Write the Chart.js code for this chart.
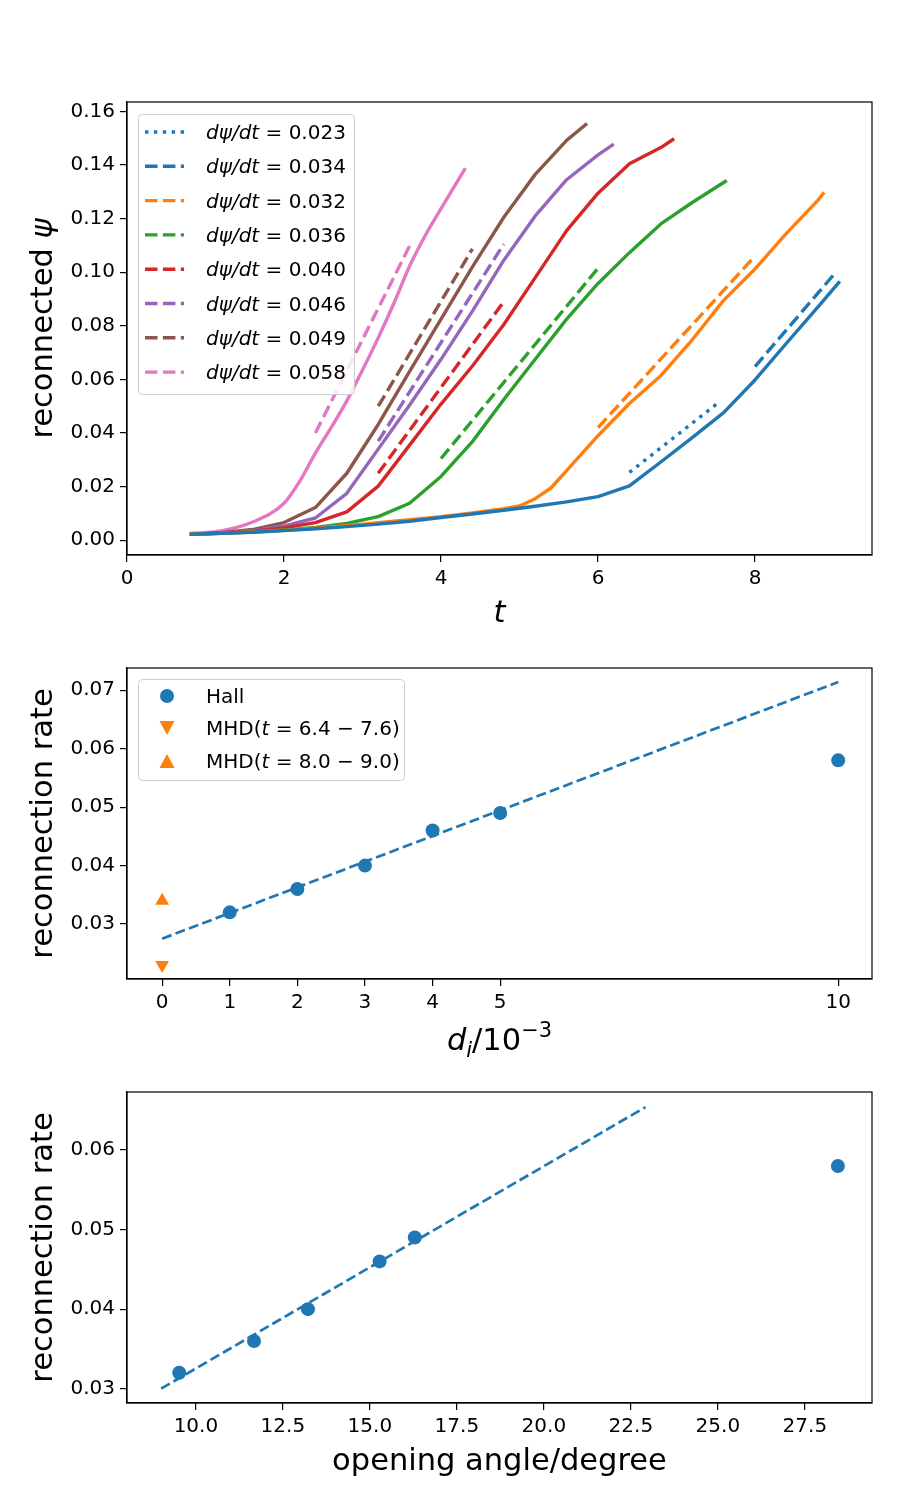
<!DOCTYPE html>
<html>
<head>
<meta charset="utf-8">
<script src="https://cdn.jsdelivr.net/npm/chart.js@4.4.0/dist/chart.umd.min.js"></script>
<style>
  body { margin: 0; background: #fff; }
  canvas { position: absolute; left: 0; }
</style>
</head>
<body>
<canvas id="c1" width="900" height="640" style="top:0px"></canvas>
<canvas id="c2" width="900" height="425" style="top:640px"></canvas>
<canvas id="c3" width="900" height="435" style="top:1065px"></canvas>
<script>
// ---- panel 1: reconnected flux vs time ----
const tBlue = [0.8, 1.2, 1.6, 2.0, 2.4, 2.8, 3.2, 3.6, 4.0, 4.4, 4.8, 5.2, 5.6, 6.0, 6.4, 6.8, 7.2, 7.6, 8.0, 8.4, 8.8, 9.08];
const psiBlue = [0.0022, 0.0026, 0.003, 0.0036, 0.0043, 0.0051, 0.006, 0.0071, 0.0085, 0.0098, 0.0112, 0.0127, 0.0143, 0.0163, 0.0203, 0.0292, 0.0383, 0.0476, 0.0598, 0.0735, 0.087, 0.0966];
const tOrange = [0.8, 1.2, 1.6, 2.0, 2.4, 2.8, 3.2, 3.6, 4.0, 4.4, 4.8, 5.0, 5.2, 5.4, 5.6, 6.0, 6.4, 6.8, 7.2, 7.6, 8.0, 8.4, 8.8, 8.88];
const psiOrange = [0.0022, 0.0026, 0.0031, 0.0037, 0.0045, 0.0054, 0.0066, 0.0077, 0.0088, 0.0102, 0.0118, 0.0128, 0.0155, 0.0195, 0.026, 0.039, 0.051, 0.0614, 0.0748, 0.0895, 0.1012, 0.1145, 0.1268, 0.1298];
const tGreen = [0.8, 1.2, 1.6, 2.0, 2.4, 2.8, 3.2, 3.6, 4.0, 4.4, 4.8, 5.2, 5.6, 6.0, 6.4, 6.8, 7.2, 7.64];
const psiGreen = [0.0022, 0.0026, 0.0031, 0.0038, 0.0048, 0.0063, 0.0088, 0.0138, 0.0238, 0.0368, 0.0525, 0.0675, 0.0825, 0.0958, 0.1073, 0.118, 0.126, 0.1342];
const tRed = [0.8, 1.2, 1.6, 2.0, 2.4, 2.8, 3.2, 3.6, 4.0, 4.4, 4.8, 5.2, 5.6, 6.0, 6.4, 6.8, 6.97];
const psiRed = [0.0022, 0.0027, 0.0034, 0.0046, 0.0066, 0.0106, 0.0202, 0.0355, 0.0508, 0.065, 0.0805, 0.098, 0.1155, 0.1295, 0.1405, 0.1465, 0.1498];
const tPurple = [0.8, 1.2, 1.6, 2.0, 2.4, 2.8, 3.2, 3.6, 4.0, 4.4, 4.8, 5.2, 5.6, 6.0, 6.2];
const psiPurple = [0.0022, 0.0027, 0.0036, 0.0053, 0.0083, 0.0175, 0.034, 0.0505, 0.0675, 0.0855, 0.1045, 0.121, 0.1345, 0.1438, 0.1478];
const tBrown = [0.8, 1.2, 1.6, 2.0, 2.4, 2.8, 3.2, 3.6, 4.0, 4.4, 4.8, 5.2, 5.6, 5.86];
const psiBrown = [0.0022, 0.0028, 0.004, 0.0066, 0.0122, 0.025, 0.0432, 0.063, 0.0825, 0.102, 0.1205, 0.1365, 0.1492, 0.1555];
const tPink = [0.8, 1.2, 1.6, 2.0, 2.2, 2.4, 2.6, 2.8, 3.0, 3.2, 3.4, 3.6, 3.8, 4.0, 4.31];
const psiPink = [0.0025, 0.0035, 0.0068, 0.0138, 0.022, 0.0325, 0.042, 0.052, 0.0635, 0.0755, 0.0884, 0.1023, 0.1137, 0.1237, 0.1388];

// linear fits (start/end)
const fitT023 = [6.4, 7.55], fitY023 = [0.0253, 0.0517];
const fitT034 = [8.0, 9.0], fitY034 = [0.0648, 0.099];
const fitT032 = [6.0, 8.0], fitY032 = [0.042, 0.106];
const fitT036 = [4.0, 6.0], fitY036 = [0.0305, 0.1015];
const fitT040 = [3.2, 4.8], fitY040 = [0.025, 0.089];
const fitT046 = [3.2, 4.8], fitY046 = [0.037, 0.1105];
const fitT049 = [3.2, 4.4], fitY049 = [0.050, 0.1087];
const fitT058 = [2.4, 3.6], fitY058 = [0.040, 0.1098];
const rateLabels = ['0.023', '0.034', '0.032', '0.036', '0.040', '0.046', '0.049', '0.058'];

const xTicks1 = [0, 2, 4, 6, 8];
const yTicks1 = [0, 0.02, 0.04, 0.06, 0.08, 0.10, 0.12, 0.14, 0.16];

// ---- panel 2: rate vs d_i ----
const diHall = [1, 2, 3, 4, 5, 10];
const rateHall = [0.032, 0.036, 0.040, 0.046, 0.049, 0.058];
const diMhd = [0];
const rateMhdEarly = [0.023];
const rateMhdLate = [0.034];
const fitDi = [0, 10], fitRateDi = [0.0275, 0.0714];
const xTicks2 = [0, 1, 2, 3, 4, 5, 10];
const yTicks2 = [0.03, 0.04, 0.05, 0.06, 0.07];

// ---- panel 3: rate vs opening angle ----
const angle = [9.52, 11.67, 13.22, 15.28, 16.29, 28.45];
const rateAngle = [0.032, 0.036, 0.040, 0.046, 0.049, 0.058];
const fitAngle = [9.0, 22.92], fitRateAngle = [0.030, 0.0654];
const xTicks3 = [10, 12.5, 15, 17.5, 20, 22.5, 25, 27.5];
const yTicks3 = [0.03, 0.04, 0.05, 0.06];

const FAM = '"DejaVu Sans", sans-serif';
const C = {
  blue: '#1f77b4', orange: '#ff7f0e', green: '#2ca02c', red: '#d62728',
  purple: '#9467bd', brown: '#8c564b', pink: '#e377c2'
};
const DASH = [12.5, 5.4];
const DOT = [3.4, 5.5];

function pts(xs, ys) { return xs.map((x, i) => ({ x: x, y: ys[i] })); }

function solid(xs, ys, color, smooth) {
  const d = { data: pts(xs, ys), borderColor: color, backgroundColor: color, borderWidth: 3.4,
    pointRadius: 0, showLine: true, tension: 0, borderJoinStyle: 'round' };
  if (smooth) d.cubicInterpolationMode = 'monotone';
  return d;
}
function fitLine(xs, ys, color, dash, w) {
  return { data: pts(xs, ys), borderColor: color, backgroundColor: color, borderWidth: w || 3.4,
    borderDash: dash, borderCapStyle: 'butt', pointRadius: 0, showLine: true, tension: 0 };
}

function axis(min, max, ticks, fmt, size) {
  return {
    type: 'linear', min: min, max: max,
    afterBuildTicks: s => { s.ticks = ticks.map(v => ({ value: v })); },
    afterFit: s => { if (s.isHorizontal()) s.height = size; else s.width = size; },
    grid: { display: true, drawOnChartArea: false, drawTicks: true, tickLength: 7, color: '#000', lineWidth: 1.2 },
    border: { display: true, color: '#000', width: 1.2 },
    ticks: { color: '#000', font: { family: FAM, size: 20 }, padding: 5, autoSkip: false, maxRotation: 0,
      callback: v => fmt(v) }
  };
}

// draw a run of text pieces with mixed fonts
function rich(ctx, parts, x, y, align) {
  let w = 0;
  parts.forEach(p => { ctx.font = (p.it ? 'italic ' : '') + (p.size || 20) + 'px ' + FAM; p.w = ctx.measureText(p.t).width; w += p.w; });
  let cx = align === 'center' ? x - w / 2 : x;
  ctx.textBaseline = 'alphabetic';
  ctx.textAlign = 'left';
  parts.forEach(p => {
    ctx.font = (p.it ? 'italic ' : '') + (p.size || 20) + 'px ' + FAM;
    ctx.fillText(p.t, cx, y + (p.dy || 0));
    cx += p.w;
  });
}

function legendBox(ctx, x, y, w, h) {
  ctx.beginPath();
  ctx.roundRect(x, y, w, h, 4);
  ctx.fillStyle = 'rgba(255,255,255,0.8)';
  ctx.fill();
  ctx.strokeStyle = '#cccccc';
  ctx.lineWidth = 1;
  ctx.stroke();
}

function tri(ctx, x, y, s, down) {
  const h = s * 0.93;
  ctx.beginPath();
  if (down) { ctx.moveTo(x - s, y - h); ctx.lineTo(x + s, y - h); ctx.lineTo(x, y + h); }
  else { ctx.moveTo(x - s, y + h); ctx.lineTo(x + s, y + h); ctx.lineTo(x, y - h); }
  ctx.closePath();
  ctx.fill();
}

const frame = {
  id: 'frame',
  afterDraw(chart) {
    const a = chart.chartArea, ctx = chart.ctx;
    ctx.save();
    ctx.strokeStyle = '#000';
    ctx.lineWidth = 1.2;
    ctx.strokeRect(a.left, a.top, a.right - a.left, a.bottom - a.top);
    ctx.restore();
  }
};

function titles(xParts, xBase, yText) {
  return {
    id: 'titles',
    afterDraw(chart) {
      const a = chart.chartArea, ctx = chart.ctx;
      ctx.save();
      ctx.fillStyle = '#000';
      rich(ctx, xParts, (a.left + a.right) / 2, xBase, 'center');
      ctx.translate(52, (a.top + a.bottom) / 2);
      ctx.rotate(-Math.PI / 2);
      rich(ctx, yText, 0, 0, 'center');
      ctx.restore();
    }
  };
}

const common = {
  responsive: false, animation: false, devicePixelRatio: 1,
  plugins: { legend: { display: false }, tooltip: { enabled: false } }
};

// ---------- chart 1 ----------
const fitColors = [C.blue, C.blue, C.orange, C.green, C.red, C.purple, C.brown, C.pink];
const fitDash = [DOT, DASH, DASH, DASH, DASH, DASH, DASH, DASH];

const legend1 = {
  id: 'legend1',
  afterDraw(chart) {
    const ctx = chart.ctx;
    ctx.save();
    legendBox(ctx, 138.5, 114.5, 216, 280);
    rateLabels.forEach((lab, i) => {
      const y = 132 + i * 34.3;
      ctx.strokeStyle = fitColors[i];
      ctx.lineWidth = 3.4;
      ctx.lineCap = 'butt';
      ctx.setLineDash(fitDash[i]);
      ctx.beginPath(); ctx.moveTo(145, y); ctx.lineTo(184, y); ctx.stroke();
      ctx.setLineDash([]);
      ctx.fillStyle = '#000';
      rich(ctx, [{ t: 'dψ/dt', it: true }, { t: ' = ' + lab }], 206, y + 7, 'left');
    });
    ctx.restore();
  }
};

new Chart(document.getElementById('c1'), {
  type: 'scatter',
  data: {
    datasets: [
      solid(tBlue, psiBlue, C.blue),
      solid(tOrange, psiOrange, C.orange),
      solid(tGreen, psiGreen, C.green),
      solid(tRed, psiRed, C.red),
      solid(tPurple, psiPurple, C.purple),
      solid(tBrown, psiBrown, C.brown),
      solid(tPink, psiPink, C.pink, true),
      fitLine(fitT023, fitY023, C.blue, DOT),
      fitLine(fitT034, fitY034, C.blue, DASH),
      fitLine(fitT032, fitY032, C.orange, DASH),
      fitLine(fitT036, fitY036, C.green, DASH),
      fitLine(fitT040, fitY040, C.red, DASH),
      fitLine(fitT046, fitY046, C.purple, DASH),
      fitLine(fitT049, fitY049, C.brown, DASH),
      fitLine(fitT058, fitY058, C.pink, DASH)
    ]
  },
  options: Object.assign({}, common, {
    layout: { padding: { left: 0, right: 28, top: 102, bottom: 0 } },
    scales: {
      x: axis(0, 9.49, xTicks1, v => String(v), 85),
      y: axis(-0.0055, 0.1635, yTicks1, v => v.toFixed(2), 127)
    }
  }),
  plugins: [frame, legend1,
    titles([{ t: 't', it: true, size: 30.5 }], 622, [{ t: 'reconnected ', size: 30.5 }, { t: 'ψ', it: true, size: 30.5 }])]
});

// ---------- chart 2 ----------
const legend2 = {
  id: 'legend2',
  afterDraw(chart) {
    const ctx = chart.ctx;
    ctx.save();
    legendBox(ctx, 138.5, 39.5, 266, 101);
    ctx.fillStyle = C.blue;
    ctx.beginPath(); ctx.arc(167, 56, 7, 0, Math.PI * 2); ctx.fill();
    ctx.fillStyle = C.orange;
    tri(ctx, 167, 88, 7.5, true);
    tri(ctx, 167, 121, 7.5, false);
    ctx.fillStyle = '#000';
    rich(ctx, [{ t: 'Hall' }], 206, 63, 'left');
    rich(ctx, [{ t: 'MHD(' }, { t: 't', it: true }, { t: ' = 6.4 − 7.6)' }], 206, 95, 'left');
    rich(ctx, [{ t: 'MHD(' }, { t: 't', it: true }, { t: ' = 8.0 − 9.0)' }], 206, 128, 'left');
    ctx.restore();
  }
};

new Chart(document.getElementById('c2'), {
  type: 'scatter',
  data: {
    datasets: [
      fitLine(fitDi, fitRateDi, C.blue, [10, 4.3], 2.7),
      { data: pts(diHall, rateHall), backgroundColor: C.blue, borderWidth: 0, pointRadius: 7, pointStyle: 'circle' },
      { data: pts(diMhd, rateMhdEarly), backgroundColor: C.orange, borderWidth: 0, pointRadius: 8, pointStyle: 'triangle', rotation: 180 },
      { data: pts(diMhd, rateMhdLate), backgroundColor: C.orange, borderWidth: 0, pointRadius: 8, pointStyle: 'triangle' }
    ]
  },
  options: Object.assign({}, common, {
    layout: { padding: { left: 0, right: 28, top: 28, bottom: 0 } },
    scales: {
      x: axis(-0.52, 10.5, xTicks2, v => String(v), 86),
      y: axis(0.0206, 0.0738, yTicks2, v => v.toFixed(2), 127)
    }
  }),
  plugins: [frame, legend2,
    titles([{ t: 'd', it: true, size: 30.5 }, { t: 'i', it: true, size: 21, dy: 7 }, { t: '/10', size: 30.5 }, { t: '−3', size: 21, dy: -13 }], 410,
      [{ t: 'reconnection rate', size: 30.5 }])]
});

// ---------- chart 3 ----------
new Chart(document.getElementById('c3'), {
  type: 'scatter',
  data: {
    datasets: [
      fitLine(fitAngle, fitRateAngle, C.blue, [10, 4.3], 2.7),
      { data: pts(angle, rateAngle), backgroundColor: C.blue, borderWidth: 0, pointRadius: 7, pointStyle: 'circle' }
    ]
  },
  options: Object.assign({}, common, {
    layout: { padding: { left: 0, right: 28, top: 27, bottom: 0 } },
    scales: {
      x: axis(8.02, 29.43, xTicks3, v => v.toFixed(1), 97),
      y: axis(0.0282, 0.0673, yTicks3, v => v.toFixed(2), 127)
    }
  }),
  plugins: [frame,
    titles([{ t: 'opening angle/degree', size: 30.5 }], 405, [{ t: 'reconnection rate', size: 30.5 }])]
});
</script>
</body>
</html>
